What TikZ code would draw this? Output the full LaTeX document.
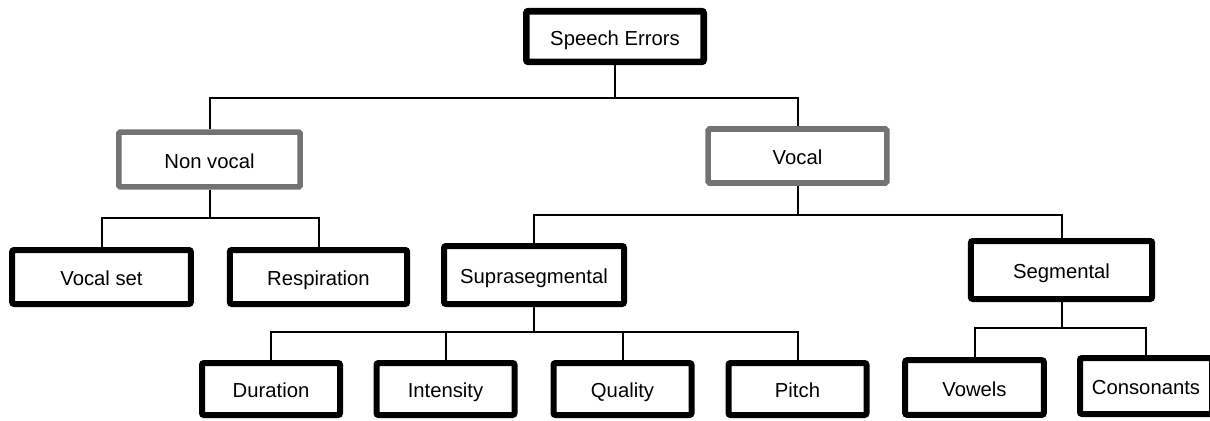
\documentclass[tikz,border=0pt]{standalone}
\usepackage{fontspec}
\setmainfont{Liberation Sans}
\begin{document}
\begin{tikzpicture}[x=0.75pt,y=-0.75pt,
  box/.style={draw=black,line width=4.5pt,rounded corners=1.5pt,fill=white,inner sep=0pt,
    text height=14pt,text depth=1pt,
    font=\fontsize{15.2pt}{17pt}\selectfont},
  gbox/.style={box,draw=black!55,line width=4.2pt,rounded corners=1pt},
  conn/.style={draw=black,line width=1.5pt}]
\useasboundingbox (0,0) rectangle (1210,421);
% level 0
\node[box,line width=5pt,minimum width=133pt,minimum height=38pt] (SE) at (615,36.5) {Speech Errors};
% level 1
\node[gbox,minimum width=136pt,minimum height=41pt] (NV) at (209.5,159.5) {Non vocal};
\node[gbox,minimum width=134pt,minimum height=40.5pt] (V) at (797.5,156) {Vocal};
% level 2
\node[box,minimum width=134pt,minimum height=40.5pt] (VS) at (101.5,277) {Vocal set};
\node[box,minimum width=133pt,minimum height=40.5pt] (R) at (318.5,277) {Respiration};
\node[box,minimum width=135pt,minimum height=43.5pt] (SS) at (534,275) {Suprasegmental};
\node[box,minimum width=136pt,minimum height=43.5pt] (SG) at (1061.5,270) {Segmental};
% level 3
\node[box,minimum width=103.5pt,minimum height=39pt] (D) at (271,389) {Duration};
\node[box,minimum width=103.5pt,minimum height=39pt] (I) at (445.5,389) {Intensity};
\node[box,minimum width=103.5pt,minimum height=39pt] (Q) at (622.5,389) {Quality};
\node[box,minimum width=103.5pt,minimum height=39pt] (P) at (797.5,389) {Pitch};
\node[box,minimum width=104pt,minimum height=41pt] (Vo) at (974.5,387.5) {Vowels};
\node[box,minimum width=99pt,minimum height=42pt] (C) at (1146,386) {Consonants};
% bus levels
\coordinate (b1) at (0,97.5);
\coordinate (b2) at (0,218);
\coordinate (b3) at (0,214.5);
\coordinate (b4) at (0,332);
\coordinate (b5) at (0,328);
% connectors
\draw[conn] (SE.south) -- (SE.south |- b1) -| (NV.north);
\draw[conn] (SE.south |- b1) -| (V.north);
\draw[conn] (NV.south) -- (NV.south |- b2) -| (VS.north);
\draw[conn] (NV.south |- b2) -| (R.north);
\draw[conn] (V.south) -- (V.south |- b3) -| (SS.north);
\draw[conn] (V.south |- b3) -| (SG.north);
\draw[conn] (SS.south) -- (SS.south |- b4) -| (D.north);
\draw[conn] (SS.south |- b4) -| (P.north);
\draw[conn] (I.north) -- (I.north |- b4);
\draw[conn] (Q.north) -- (Q.north |- b4);
\draw[conn] (SG.south) -- (SG.south |- b5) -| (Vo.north);
\draw[conn] (SG.south |- b5) -| (C.north);
\end{tikzpicture}
\end{document}
